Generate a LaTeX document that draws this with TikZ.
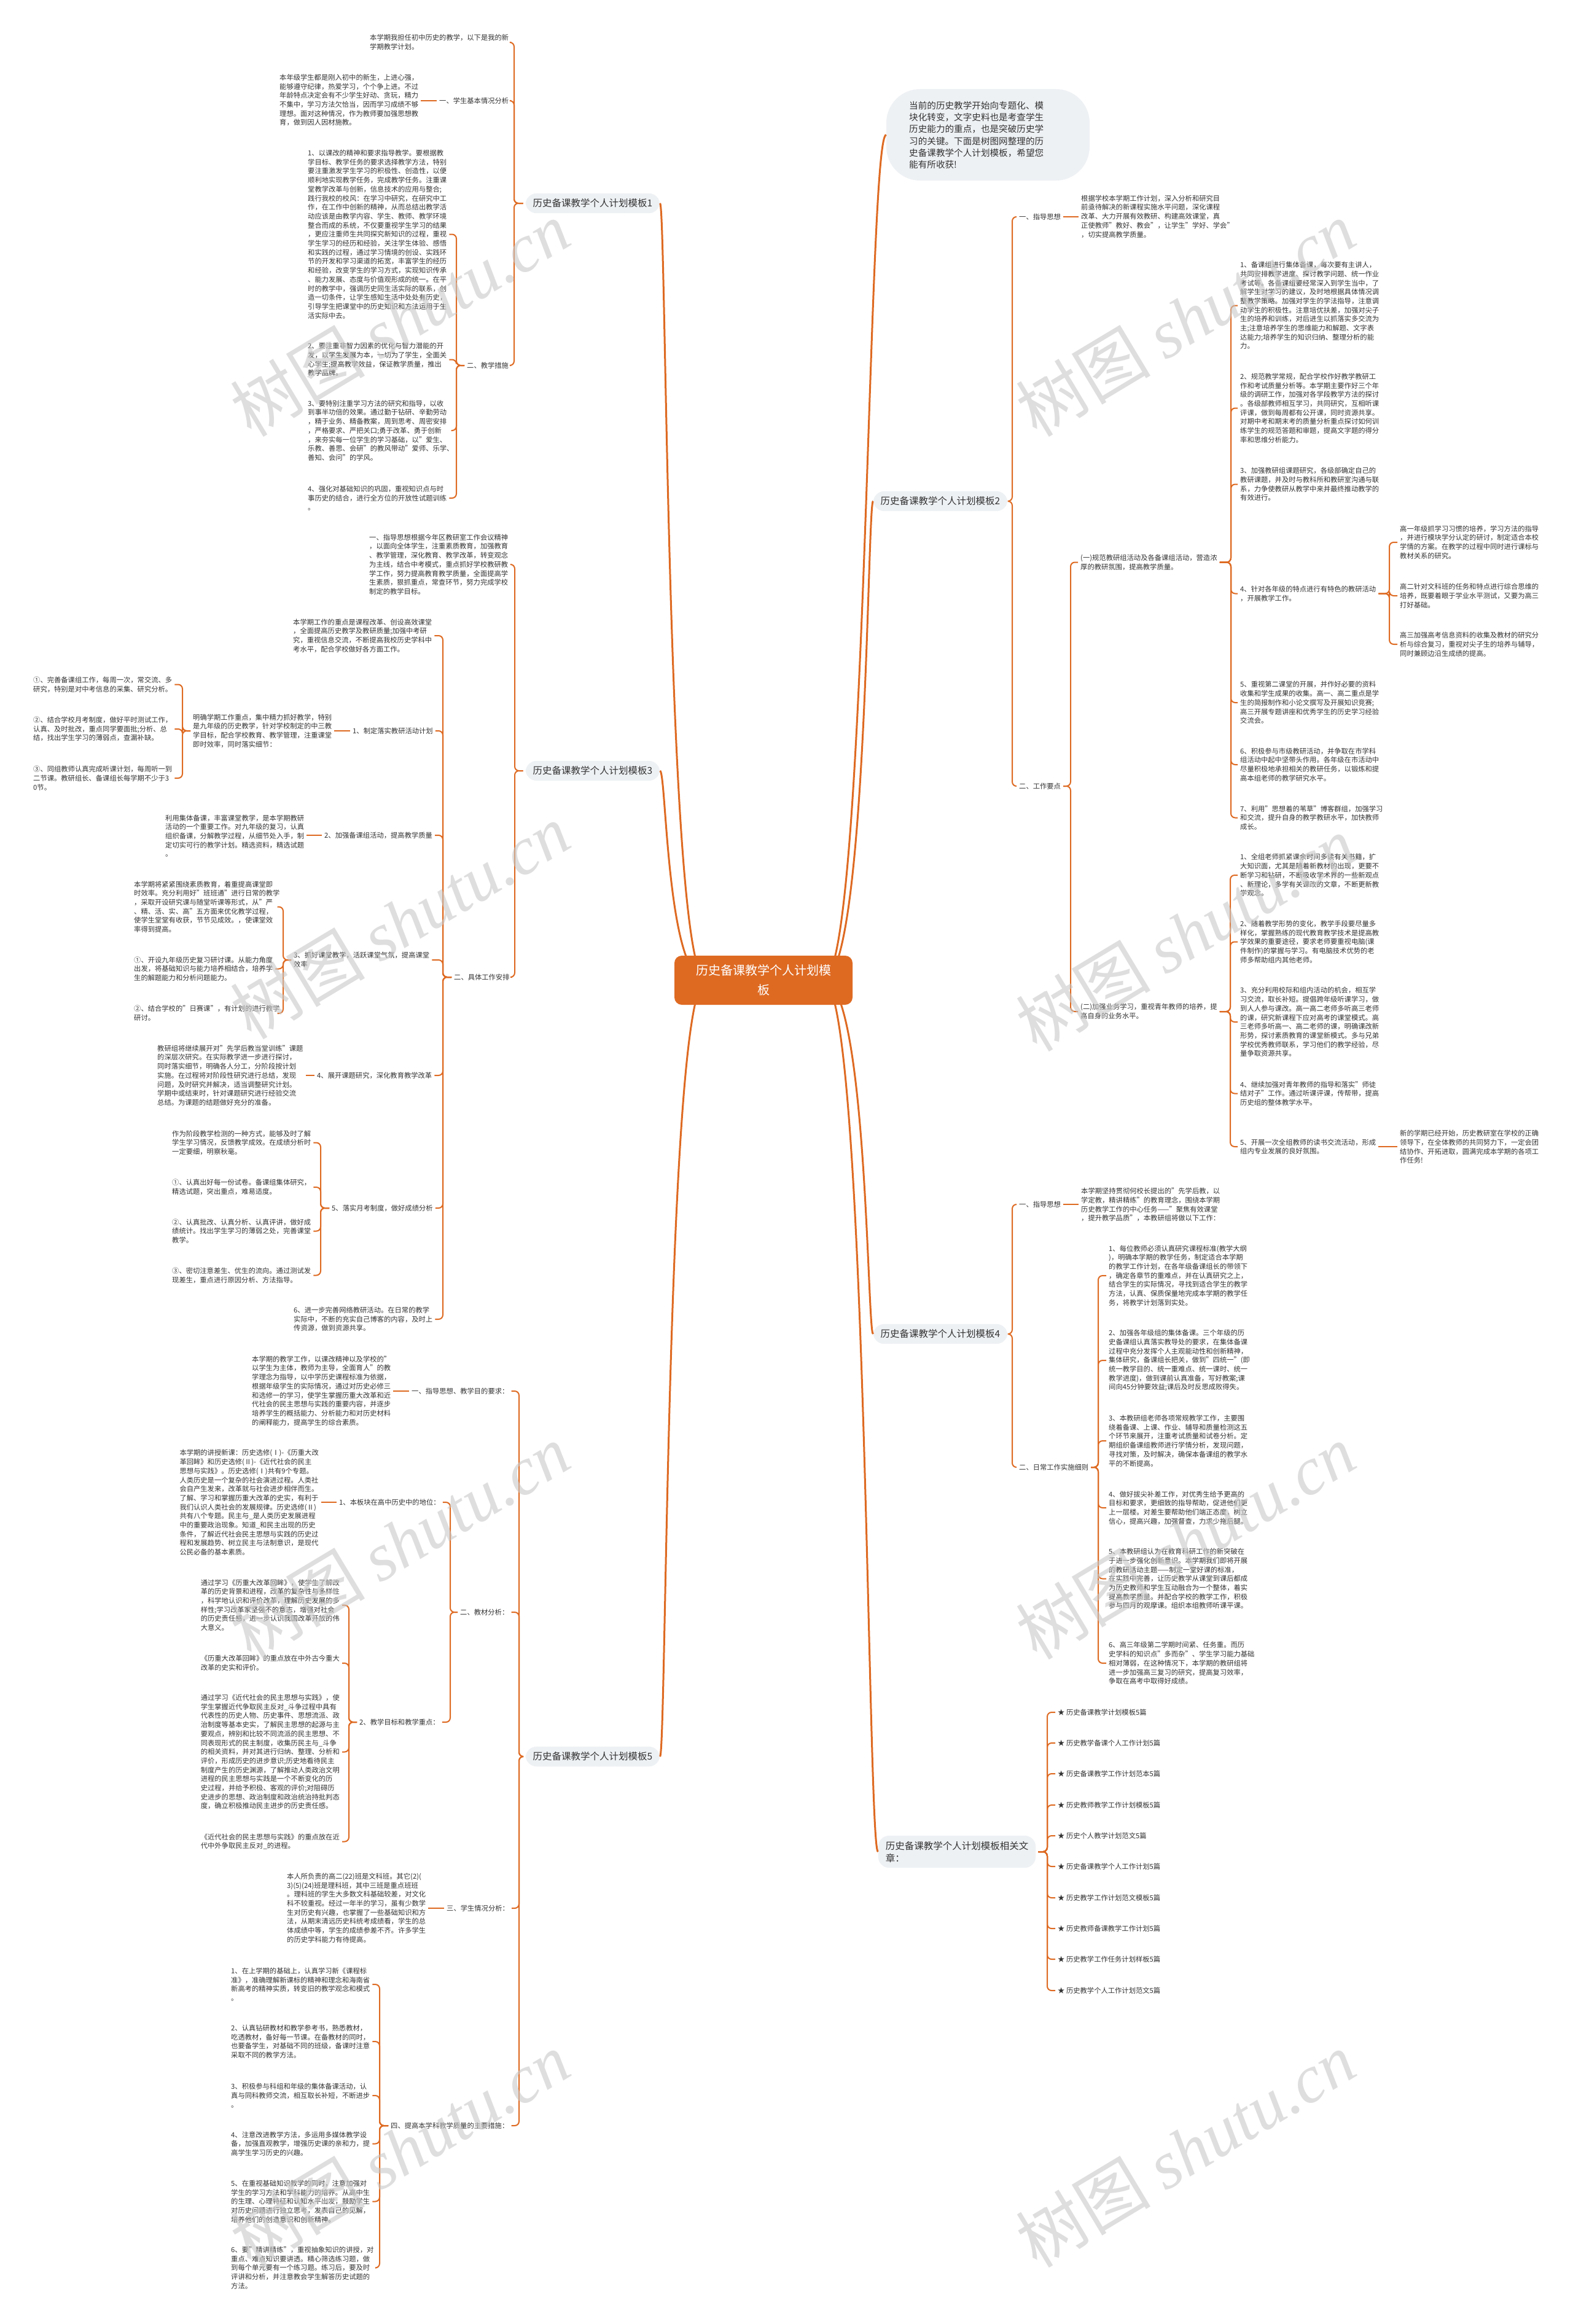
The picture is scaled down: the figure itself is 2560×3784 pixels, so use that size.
\documentclass[tikz,border=0pt]{standalone}
\usepackage{fontspec}
\setmainfont{Noto Sans CJK SC}
\newfontfamily\wmlat{Liberation Serif}
\definecolor{oc}{RGB}{222,106,34}
\definecolor{tc}{RGB}{51,51,51}
\definecolor{gb}{RGB}{238,241,244}
\definecolor{wmc}{RGB}{200,200,200}
\newcommand\tfs{\fontsize{11.3}{14.7}\selectfont}
\newcommand\Lk[3]{\draw[conn] (#1.west) -- (#1.west -| #3,0) |- (#2.east);}
\newcommand\Rk[3]{\draw[conn] (#1.east) -- (#1.east -| #3,0) |- (#2.west);}
\newcommand\Ls[2]{\draw[conn] (#1.west) -- (#1.west -| #2.east);}
\newcommand\Rs[2]{\draw[conn] (#1.east) -- (#1.east -| #2.west);}
\tikzset{
  txt/.style={font=\tfs, text=tc, inner sep=0pt, align=left, anchor=west},
  conn/.style={draw=oc, line width=2pt, rounded corners=7pt, shorten <=4pt, shorten >=4pt},
  lone/.style={draw=oc, line width=3pt},
  pill/.style={fill=gb, rounded corners=18pt, inner xsep=12pt, inner ysep=9pt, font=\fontsize{15.5}{20}\selectfont, text=tc, align=left},
  hub/.style={fill=oc, rounded corners=12pt, minimum width=290pt, minimum height=80pt, font=\fontsize{20}{32}\selectfont, text=white, align=center},
  wm/.style={rotate=31, text=wmc, opacity=.6, font=\fontsize{110}{110}\selectfont},
}
\begin{document}
\begin{tikzpicture}[x=1pt,y=-1pt]
\useasboundingbox (0,0) rectangle (2560,3784);
\fill[white] (0,0) rectangle (2560,3784);

% ---------- level 1 nodes ----------
\node[pill] (L1) at (965,331) {历史备课教学个人计划模板1};
\node[pill] (L3) at (965,1255) {历史备课教学个人计划模板3};
\node[pill] (L5) at (965,2860) {历史备课教学个人计划模板5};
\node[pill] (L2) at (1531,816) {历史备课教学个人计划模板2};
\node[pill] (L4) at (1531,2172) {历史备课教学个人计划模板4};
\node[pill] (L6) at (1558,3015) {历史备课教学个人计划模板相关文\\章：};
\node[fill=gb, rounded corners=55pt, minimum width=331pt, minimum height=149pt] (bub) at (1608.5,219.5) {};
\node[font=\fontsize{14.6}{19.3}\selectfont, text=tc, align=left, inner sep=0pt, anchor=west] at (1480,220) {当前的历史教学开始向专题化、模\\块化转变，文字史料也是考查学生\\历史能力的重点，也是突破历史学\\习的关键。下面是树图网整理的历\\史备课教学个人计划模板，希望您\\能有所收获!};

% ---------- hub curves ----------
\draw[lone] (1150,1596) .. controls (1085,1596) and (1085,331) .. (L1.east);
\draw[lone] (1150,1596) .. controls (1085,1596) and (1085,1255) .. (L3.east);
\draw[lone] (1150,1596) .. controls (1085,1596) and (1085,2860) .. (L5.east);
\draw[lone] (1340,1596) .. controls (1412,1596) and (1412,219.5) .. (bub.west);
\draw[lone] (1340,1596) .. controls (1412,1596) and (1412,816) .. (L2.west);
\draw[lone] (1340,1596) .. controls (1412,1596) and (1412,2172) .. (L4.west);
\draw[lone] (1340,1596) .. controls (1412,1596) and (1412,3015) .. (L6.west);
\node[hub] (c) at (1243,1596) {历史备课教学个人计划模\\板};

% ================= 模板1 =================
\node[txt] (a1) at (602,69) {本学期我担任初中历史的教学，以下是我的新\\学期教学计划。};
\node[txt] (a2) at (715,164) {一、学生基本情况分析};
\node[txt] (a2t) at (455,163) {本年级学生都是刚入初中的新生，上进心强，\\能够遵守纪律，热爱学习，个个争上进。不过\\年龄特点决定会有不少学生好动、贪玩，精力\\不集中，学习方法欠恰当，因而学习成绩不够\\理想。面对这种情况，作为教师要加强思想教\\育，做到因人因材施教。};
\node[txt] (a3) at (760,595) {二、教学措施};
\node[txt] (i1) at (501,381.5) {1、以课改的精神和要求指导教学。要根据教\\学目标、教学任务的要求选择教学方法，特别\\要注重激发学生学习的积极性、创造性，以便\\顺利地实现教学任务，完成教学任务。注重课\\堂教学改革与创新，信息技术的应用与整合;\\践行我校的校风：在学习中研究，在研究中工\\作，在工作中创新的精神，从而总结出教学活\\动应该是由教学内容、学生、教师、教学环境\\整合而成的系统，不仅要重视学生学习的结果\\，更应注重师生共同探究新知识的过程，重视\\学生学习的经历和经验，关注学生体验、感悟\\和实践的过程，通过学习情境的创设、实践环\\节的开发和学习渠道的拓宽，丰富学生的经历\\和经验，改变学生的学习方式，实现知识传承\\、能力发展、态度与价值观形成的统一。在平\\时的教学中，强调历史同生活实际的联系，创\\造一切条件，让学生感知生活中处处有历史，\\引导学生把课堂中的历史知识和方法运用于生\\活实际中去。};
\node[txt] (i2) at (501,585.5) {2、要注重非智力因素的优化与智力潜能的开\\发，以学生发展为本，一切为了学生，全面关\\心学生;提高教学效益，保证教学质量，推出\\教学品牌。};
\node[txt] (i3) at (501,701) {3、要特别注重学习方法的研究和指导，以收\\到事半功倍的效果。通过勤于钻研、辛勤劳动\\，精于业务、精备教案，周到思考、周密安排\\，严格要求、严把关口;勇于改革、勇于创新\\，来夯实每一位学生的学习基础，以"爱生、\\乐教、善思、会研"的教风带动"爱师、乐学、\\善知、会问"的学风。};
\node[txt] (i4) at (501,811) {4、强化对基础知识的巩固，重视知识点与时\\事历史的结合，进行全方位的开放性试题训练\\。};
\Lk{L1}{a1}{837}\Lk{L1}{a2}{837}\Lk{L1}{a3}{837}
\Ls{a2}{a2t}
\Lk{a3}{i1}{743}\Lk{a3}{i2}{743}\Lk{a3}{i3}{743}\Lk{a3}{i4}{743}

% ================= 模板3 =================
\node[txt] (b1) at (601,919) {一、指导思想根据今年区教研室工作会议精神\\，以面向全体学生，注重素质教育，加强教育\\、教学管理，深化教育、教学改革，转变观念\\为主线，结合中考模式，重点抓好学校教研教\\学工作，努力提高教育教学质量，全面提高学\\生素质，狠抓重点，常查环节，努力完成学校\\制定的教学目标。};
\node[txt] (b2) at (739,1591) {二、具体工作安排};
\Lk{L3}{b1}{838}\Lk{L3}{b2}{838}
\node[txt] (c1) at (477,1035) {本学期工作的重点是课程改革、创设高效课堂\\，全面提高历史教学及教研质量;加强中考研\\究，重视信息交流，不断提高我校历史学科中\\考水平，配合学校做好各方面工作。};
\node[txt] (c2) at (574,1190) {1、制定落实教研活动计划};
\node[txt] (c3) at (528,1360) {2、加强备课组活动，提高教学质量};
\node[txt] (c4) at (478,1563) {3、抓好课堂教学，活跃课堂气氛，提高课堂\\效率};
\node[txt] (c5) at (516,1751) {4、展开课题研究，深化教育教学改革};
\node[txt] (c6) at (540,1967) {5、落实月考制度，做好成绩分析};
\node[txt] (c7) at (478,2148) {6、进一步完善网络教研活动。在日常的教学\\实际中，不断的充实自己博客的内容，及时上\\传资源，做到资源共享。};
\Lk{b2}{c1}{721}\Lk{b2}{c2}{721}\Lk{b2}{c3}{721}\Lk{b2}{c4}{721}\Lk{b2}{c5}{721}\Lk{b2}{c6}{721}\Lk{b2}{c7}{721}
\node[txt] (c2t) at (314,1190) {明确学期工作重点，集中精力抓好教学，特别\\是九年级的历史教学，针对学校制定的中三教\\学目标，配合学校教育、教学管理，注重课堂\\即时效率，同时落实细节：};
\Ls{c2}{c2t}
\node[txt] (d1) at (54,1114.5) {①、完善备课组工作，每周一次，常交流、多\\研究，特别是对中考信息的采集、研究分析。};
\node[txt] (d2) at (54,1187) {②、结合学校月考制度，做好平时测试工作，\\认真、及时批改，重点同学要面批;分析、总\\结，找出学生学习的薄弱点，查漏补缺。};
\node[txt] (d3) at (54,1267) {③、同组教师认真完成听课计划，每周听一到\\二节课。教研组长、备课组长每学期不少于3\\0节。};
\Lk{c2t}{d1}{297}\Lk{c2t}{d2}{297}\Lk{c2t}{d3}{297}
\node[txt] (c3t) at (269,1361) {利用集体备课，丰富课堂教学，是本学期教研\\活动的一个重要工作。对九年级的复习，认真\\组织备课，分解教学过程，从细节处入手，制\\定切实可行的教学计划。精选资料，精选试题\\。};
\Ls{c3}{c3t}
\node[txt] (e1) at (218,1476.5) {本学期将紧紧围绕素质教育，着重提高课堂即\\时效率。充分利用好"班班通"进行日常的教学\\，采取开设研究课与随堂听课等形式，从"严\\、精、活、实、高"五方面来优化教学过程，\\使学生堂堂有收获，节节见成效。，使课堂效\\率得到提高。};
\node[txt] (e2) at (218,1577.5) {①、开设九年级历史复习研讨课。从能力角度\\出发，将基础知识与能力培养相结合，培养学\\生的解题能力和分析问题能力。};
\node[txt] (e3) at (218,1650) {②、结合学校的"日赛课"，有计划的进行教学\\研讨。};
\Lk{c4}{e1}{461}\Lk{c4}{e2}{461}\Lk{c4}{e3}{461}
\node[txt] (c5t) at (256,1751) {教研组将继续展开对"先学后教当堂训练"课题\\的深层次研究。在实际教学进一步进行探讨，\\同时落实细节，明确各人分工，分阶段按计划\\实施。在过程将对阶段性研究进行总结，发现\\问题，及时研究并解决，适当调整研究计划。\\学期中或结束时，针对课题研究进行经验交流\\总结。为课题的结题做好充分的准备。};
\Ls{c5}{c5t}
\node[txt] (f1) at (280,1860.5) {作为阶段教学检测的一种方式，能够及时了解\\学生学习情况，反馈教学成效。在成绩分析时\\一定要细，明察秋毫。};
\node[txt] (f2) at (280,1933) {①、认真出好每一份试卷。备课组集体研究，\\精选试题，突出重点，难易适度。};
\node[txt] (f3) at (280,2004.5) {②、认真批改、认真分析、认真评讲，做好成\\绩统计。找出学生学习的薄弱之处，完善课堂\\教学。};
\node[txt] (f4) at (280,2076.5) {③、密切注意差生、优生的流向。通过测试发\\现差生，重点进行原因分析、方法指导。};
\Lk{c6}{f1}{522}\Lk{c6}{f2}{522}\Lk{c6}{f3}{522}\Lk{c6}{f4}{522}

% ================= 模板5 =================
\node[txt] (g1) at (670,2265) {一、指导思想、教学目的要求：};
\node[txt] (g2) at (749,2625) {二、教材分析：};
\node[txt] (g3) at (727,3107) {三、学生情况分析：};
\node[txt] (g4) at (636,3461) {四、提高本学科教学质量的主要措施：};
\Lk{L5}{g1}{845}\Lk{L5}{g2}{845}\Lk{L5}{g3}{845}\Lk{L5}{g4}{845}
\node[txt] (g1t) at (410,2264.5) {本学期的教学工作，以课改精神以及学校的"\\以学生为主体，教师为主导，全面育人"的教\\学理念为指导，以中学历史课程标准为依据，\\根据年级学生的实际情况，通过对历史必修三\\和选修一的学习，使学生掌握历重大改革和近\\代社会的民主思想与实践的重要内容，并逐步\\培养学生的概括能力、分析能力和对历史材料\\的阐释能力，提高学生的综合素质。};
\Ls{g1}{g1t}
\node[txt] (h1) at (552,2446) {1、本板块在高中历史中的地位：};
\node[txt] (h2) at (585,2804) {2、教学目标和教学重点：};
\Lk{g2}{h1}{733}\Lk{g2}{h2}{733}
\node[txt, anchor=east] (h1t) at (519,2446.5) {本学期的讲授新课：历史选修(Ⅰ)-《历重大改\\革回眸》和历史选修(Ⅱ)-《近代社会的民主\\思想与实践》。历史选修(Ⅰ)共有9个专题。\\人类历史是一个复杂的社会演进过程。人类社\\会自产生发来，改革就与社会进步相伴而生。\\了解、学习和掌握历重大改革的史实，有利于\\我们认识人类社会的发展规律。历史选修(Ⅱ)\\共有八个专题。民主与\_是人类历史发展进程\\中的重要政治现象。知道\_和民主出现的历史\\条件，了解近代社会民主思想与实践的历史过\\程和发展趋势、树立民主与法制意识，是现代\\公民必备的基本素质。};
\Ls{h1}{h1t}
\node[txt, anchor=east] (k1) at (553,2613.5) {通过学习《历重大改革回眸》，使学生了解改\\革的历史背景和进程，改革的复杂性与多样性\\，科学地认识和评价改革，理解历史发展的多\\样性;学习改革家坚强不的意志，增强对社会\\的历史责任感，进一步认识我国改革开放的伟\\大意义。};
\node[txt, anchor=east] (k2) at (553,2708) {《历重大改革回眸》的重点放在中外古今重大\\改革的史实和评价。};
\node[txt, anchor=east] (k3) at (553,2852.5) {通过学习《近代社会的民主思想与实践》，使\\学生掌握近代争取民主反对\_斗争过程中具有\\代表性的历史人物、历史事件、思想流派、政\\治制度等基本史实，了解民主思想的起源与主\\要观点，辨别和比较不同流派的民主思想、不\\同表现形式的民主制度，收集历民主与\_斗争\\的相关资料，并对其进行归纳、整理、分析和\\评价，形成历史的进步意识;历史地看待民主\\制度产生的历史渊源，了解推动人类政治文明\\进程的民主思想与实践是一个不断变化的历\\史过程，并给予积极、客观的评价;对阻碍历\\史进步的思想、政治制度和政治统治持批判态\\度，确立积极推动民主进步的历史责任感。};
\node[txt, anchor=east] (k4) at (553,2998.5) {《近代社会的民主思想与实践》的重点放在近\\代中外争取民主反对\_的进程。};
\Lk{h2}{k1}{568}\Lk{h2}{k2}{568}\Lk{h2}{k3}{568}\Lk{h2}{k4}{568}
\node[txt] (g3t) at (467,3106.5) {本人所负责的高二(22)班是文科班。其它(2)(\\3)(5)(24)班是理科班，其中三班是重点班班\\。理科班的学生大多数文科基础较差，对文化\\科不较重视。经过一年半的学习，虽有少数学\\生对历史有兴趣，也掌握了一些基础知识和方\\法，从期末清远历史科统考成绩看，学生的总\\体成绩中等，学生的成绩参差不齐。许多学生\\的历史学科能力有待提高。};
\Ls{g3}{g3t}
\node[txt] (m1) at (376,3231) {1、在上学期的基础上，认真学习新《课程标\\准》，准确理解新课标的精神和理念和海南省\\新高考的精神实质，转变旧的教学观念和模式\\。};
\node[txt] (m2) at (376,3324) {2、认真钻研教材和教学参考书，熟悉教材，\\吃透教材，备好每一节课。在备教材的同时，\\也要备学生，对基础不同的班级，备课时注意\\采取不同的教学方法。};
\node[txt] (m3) at (376,3412) {3、积极参与科组和年级的集体备课活动，认\\真与同科教师交流，相互取长补短，不断进步\\。};
\node[txt] (m4) at (376,3490.5) {4、注意改进教学方法，多运用多媒体教学设\\备，加强直观教学，增强历史课的亲和力，提\\高学生学习历史的兴趣。};
\node[txt] (m5) at (376,3584.5) {5、在重视基础知识教学的同时，注意加强对\\学生的学习方法和学科能力的培养。从高中生\\的生理、心理特征和认知水平出发，鼓励学生\\对历史问题进行独立思考，发表自己的见解，\\培养他们的创造意识和创新精神。};
\node[txt] (m6) at (376,3692.5) {6、要"精讲精练"，重视抽象知识的讲授，对\\重点、难点知识要讲透。精心筛选练习题，做\\到每个单元要有一个练习题。练习后，要及时\\评讲和分析，并注意教会学生解答历史试题的\\方法。};
\Lk{g4}{m1}{618}\Lk{g4}{m2}{618}\Lk{g4}{m3}{618}\Lk{g4}{m4}{618}\Lk{g4}{m5}{618}\Lk{g4}{m6}{618}

% ================= 模板2 =================
\node[txt] (n1) at (1659,353) {一、指导思想};
\node[txt] (n2) at (1659,1280) {二、工作要点};
\Rk{L2}{n1}{1648}\Rk{L2}{n2}{1648}
\node[txt] (n1t) at (1760,352.5) {根据学校本学期工作计划，深入分析和研究目\\前亟待解决的新课程实施水平问题，深化课程\\改革、大力开展有效教研、构建高效课堂，真\\正使教师"教好、教会"，让学生"学好、学会"\\，切实提高教学质量。};
\Rs{n1}{n1t}
\node[txt] (o1) at (1759,915.5) {(一)规范教研组活动及各备课组活动，营造浓\\厚的教研氛围，提高教学质量。};
\node[txt] (o2) at (1759,1647) {(二)加强业务学习，重视青年教师的培养，提\\高自身的业务水平。};
\Rk{n2}{o1}{1743}\Rk{n2}{o2}{1743}
\node[txt] (p1) at (2019,497.5) {1、备课组进行集体备课，每次要有主讲人，\\共同安排教学进度、探讨教学问题、统一作业\\考试等。各备课组要经常深入到学生当中，了\\解学生对学习的建议，及时地根据具体情况调\\整教学策略。加强对学生的学法指导，注意调\\动学生的积极性。注意培优扶差，加强对尖子\\生的培养和训练，对后进生以抓落实多交流为\\主;注意培养学生的思维能力和解题、文字表\\达能力;培养学生的知识归纳、整理分析的能\\力。};
\node[txt] (p2) at (2019,664.5) {2、规范教学常规，配合学校作好教学教研工\\作和考试质量分析等。本学期主要作好三个年\\级的调研工作，加强对各学段教学方法的探讨\\。各级部教师相互学习，共同研究，互相听课\\评课，做到每周都有公开课，同时资源共享。\\对期中考和期末考的质量分析重点探讨如何训\\练学生的规范答题和审题，提高文字题的得分\\率和思维分析能力。};
\node[txt] (p3) at (2019,788.5) {3、加强教研组课题研究，各级部确定自己的\\教研课题，并及时与教科所和教研室沟通与联\\系，力争使教研从教学中来并最终推动教学的\\有效进行。};
\node[txt] (p4) at (2019,966.5) {4、针对各年级的特点进行有特色的教研活动\\，开展教学工作。};
\node[txt] (p5) at (2019,1144) {5、重视第二课堂的开展，并作好必要的资料\\收集和学生成果的收集。高一、高二重点是学\\生的简报制作和小论文撰写及开展知识竞赛;\\高三开展专题讲座和优秀学生的历史学习经验\\交流会。};
\node[txt] (p6) at (2019,1245) {6、积极参与市级教研活动，并争取在市学科\\组活动中起中坚带头作用。各年级在市活动中\\尽量积极地承担相关的教研任务，以锻炼和提\\高本组老师的教学研究水平。};
\node[txt] (p7) at (2019,1331.5) {7、利用"思想着的苇草"博客群组，加强学习\\和交流，提升自身的教学教研水平，加快教师\\成长。};
\Rk{o1}{p1}{2004}\Rk{o1}{p2}{2004}\Rk{o1}{p3}{2004}\Rk{o1}{p4}{2004}\Rk{o1}{p5}{2004}\Rk{o1}{p6}{2004}\Rk{o1}{p7}{2004}
\node[txt] (q1) at (2279,883) {高一年级抓学习习惯的培养，学习方法的指导\\，并进行模块学分认定的研讨，制定适合本校\\学情的方案。在教学的过程中同时进行课标与\\教材关系的研究。};
\node[txt] (q2) at (2279,970) {高二针对文科班的任务和特点进行综合思维的\\培养，既要着眼于学业水平测试，又要为高三\\打好基础。};
\node[txt] (q3) at (2279,1049) {高三加强高考信息资料的收集及教材的研究分\\析与综合复习，重视对尖子生的培养与辅导，\\同时兼顾边沿生成绩的提高。};
\Rk{p4}{q1}{2262}\Rk{p4}{q2}{2262}\Rk{p4}{q3}{2262}
\node[txt] (r1) at (2019,1425) {1、全组老师抓紧课余时间多读有关书籍，扩\\大知识面，尤其是随着新教材的出现，更要不\\断学习和钻研，不断吸收学术界的一些新观点\\、新理论，多学有关课改的文章，不断更新教\\学观念。};
\node[txt] (r2) at (2019,1533.5) {2、随着教学形势的变化，教学手段要尽量多\\样化，掌握熟练的现代教育教学技术是提高教\\学效果的重要途径，要求老师要重视电脑(课\\件制作)的掌握与学习。有电脑技术优势的老\\师多帮助组内其他老师。};
\node[txt] (r3) at (2019,1664) {3、充分利用校际和组内活动的机会，相互学\\习交流，取长补短。提倡跨年级听课学习，做\\到人人参与课改。高一高二老师多听高三老师\\的课，研究新课程下应对高考的课堂模式。高\\三老师多听高一、高二老师的课，明确课改新\\形势，探讨素质教育的课堂新模式。多与兄弟\\学校优秀教师联系，学习他们的教学经验，尽\\量争取资源共享。};
\node[txt] (r4) at (2019,1780.5) {4、继续加强对青年教师的指导和落实"师徒\\结对子"工作。通过听课评课，传帮带，提高\\历史组的整体教学水平。};
\node[txt] (r5) at (2019,1867) {5、开展一次全组教师的读书交流活动，形成\\组内专业发展的良好氛围。};
\Rk{o2}{r1}{2003}\Rk{o2}{r2}{2003}\Rk{o2}{r3}{2003}\Rk{o2}{r4}{2003}\Rk{o2}{r5}{2003}
\node[txt] (r5t) at (2279,1867.5) {新的学期已经开始，历史教研室在学校的正确\\领导下，在全体教师的共同努力下，一定会团\\结协作、开拓进取，圆满完成本学期的各项工\\作任务!};
\Rs{r5}{r5t}

% ================= 模板4 =================
\node[txt] (s1) at (1659,1961) {一、指导思想};
\node[txt] (s2) at (1659,2389) {二、日常工作实施细则};
\Rk{L4}{s1}{1648}\Rk{L4}{s2}{1648}
\node[txt] (s1t) at (1760,1961.5) {本学期坚持贯彻何校长提出的"先学后教，以\\学定教，精讲精练"的教育理念，围绕本学期\\历史教学工作的中心任务——"聚焦有效课堂\\，提升教学品质"，本教研组将做以下工作：};
\Rs{s1}{s1t}
\node[txt] (t1) at (1805,2077) {1、每位教师必须认真研究课程标准(教学大纲\\)，明确本学期的教学任务，制定适合本学期\\的教学工作计划，在各年级备课组长的带领下\\，确定各章节的重难点，并在认真研究之上，\\结合学生的实际情况，寻找到适合学生的教学\\方法，认真、保质保量地完成本学期的教学任\\务，将教学计划落到实处。};
\node[txt] (t2) at (1805,2215) {2、加强各年级组的集体备课。三个年级的历\\史备课组认真落实教导处的要求，在集体备课\\过程中充分发挥个人主观能动性和创新精神，\\集体研究，备课组长把关，做到"四统一"(即\\统一教学目的、统一重难点、统一课时、统一\\教学进度)，做到课前认真准备，写好教案;课\\间向45分钟要效益;课后及时反思成败得失。};
\node[txt] (t3) at (1805,2346) {3、本教研组老师各项常规教学工作，主要围\\绕着备课、上课、作业、辅导和质量检测这五\\个环节来展开，注重考试质量和试卷分析。定\\期组织备课组教师进行学情分析，发现问题，\\寻找对策，及时解决，确保本备课组的教学水\\平的不断提高。};
\node[txt] (t4) at (1805,2455) {4、做好拔尖补差工作，对优秀生给予更高的\\目标和要求，更细致的指导帮助，促进他们更\\上一层楼。对差生要帮助他们端正态度，树立\\信心，提高兴趣，加强督查，力求少拖后腿。};
\node[txt] (t5) at (1805,2570.5) {5、本教研组认为在教育科研工作的新突破在\\于进一步强化创新意识。本学期我们即将开展\\的教研活动主题——制定一堂好课的标准，\\在实践中完善，让历史教学从课堂到课后都成\\为历史教师和学生互动融合为一个整体，着实\\提高教学质量。并配合学校的教学工作，积极\\参与四月的观摩课。组织本组教师听课平课。};
\node[txt] (t6) at (1805,2708) {6、高三年级第二学期时间紧、任务重。而历\\史学科的知识点"多而杂"、学生学习能力基础\\相对薄弱，在这种情况下，本学期的教研组将\\进一步加强高三复习的研究，提高复习效率，\\争取在高考中取得好成绩。};
\Rk{s2}{t1}{1788}\Rk{s2}{t2}{1788}\Rk{s2}{t3}{1788}\Rk{s2}{t4}{1788}\Rk{s2}{t5}{1788}\Rk{s2}{t6}{1788}

% ================= 相关文章 =================
\foreach \i/\yy/\tt in {1/2788/历史备课教学计划模板5篇, 2/2838/历史教学备课个人工作计划5篇, 3/2888/历史备课教学工作计划范本5篇, 4/2939/历史教师教学工作计划模板5篇, 5/2989/历史个人教学计划范文5篇, 6/3039/历史备课教学个人工作计划5篇, 7/3090/历史教学工作计划范文模板5篇, 8/3140/历史教师备课教学工作计划5篇, 9/3190/历史教学工作任务计划样板5篇, 10/3241/历史教学个人工作计划范文5篇}{
  \node[txt] (u\i) at (1722,\yy) {★ \tt};
  \Rk{L6}{u\i}{1705}
}

% ================= watermarks =================
\foreach \wx/\wy in {651/519, 1930/519, 651/1500, 1930/1520, 651/2510, 1930/2510, 651/3500, 1930/3500}{
  \node[wm] at (\wx,\wy) {树图 {\wmlat\itshape shutu.cn}};
}
\end{tikzpicture}
\end{document}
